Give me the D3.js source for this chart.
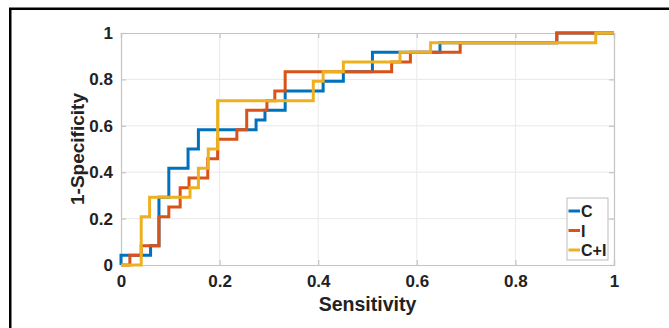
<!DOCTYPE html>
<html><head><meta charset="utf-8">
<script src="https://cdn.jsdelivr.net/npm/d3@7/dist/d3.min.js"></script>
<style>html,body{margin:0;padding:0;background:#fff;}svg{display:block;}</style>
</head><body>
<svg id="chart" width="669" height="328"></svg>
<script>
// ---- data ----
const seriesNames = ["C", "I", "C+I"];
const cX  = [0, 0, 0.06, 0.077, 0.097, 0.136, 0.157, 0.274, 0.292, 0.333, 0.41, 0.451, 0.51, 0.647, 0.884, 1];
const cY  = [0, 0.042, 0.083, 0.292, 0.417, 0.5, 0.583, 0.625, 0.667, 0.75, 0.792, 0.833, 0.917, 0.958, 1, 1];
const iX  = [0, 0.018, 0.041, 0.077, 0.097, 0.12, 0.138, 0.176, 0.196, 0.235, 0.255, 0.296, 0.312, 0.333, 0.549, 0.587, 0.688, 0.884, 1];
const iY  = [0, 0.042, 0.083, 0.208, 0.25, 0.333, 0.375, 0.458, 0.542, 0.583, 0.667, 0.708, 0.75, 0.833, 0.875, 0.917, 0.958, 1, 1];
const ciX = [0, 0.041, 0.058, 0.14, 0.157, 0.177, 0.196, 0.39, 0.41, 0.451, 0.566, 0.628, 0.963, 1];
const ciY = [0, 0.208, 0.292, 0.333, 0.417, 0.5, 0.708, 0.792, 0.833, 0.875, 0.917, 0.958, 1, 1];
const xTicks = [0, 0.2, 0.4, 0.6, 0.8, 1];
const yTicks = [0, 0.2, 0.4, 0.6, 0.8, 1];
const xTickLabels = ["0", "0.2", "0.4", "0.6", "0.8", "1"];
const yTickLabels = ["0", "0.2", "0.4", "0.6", "0.8", "1"];
const xLabel = "Sensitivity";
const yLabel = "1-Specificity";

const colors = ["#0072BD", "#D95319", "#EDB120"];
const series = [
  {name: seriesNames[0], pts: cX.map((v, i) => [v, cY[i]])},
  {name: seriesNames[1], pts: iX.map((v, i) => [v, iY[i]])},
  {name: seriesNames[2], pts: ciX.map((v, i) => [v, ciY[i]])}
];

const svg = d3.select("#chart");
const pL = 121, pR = 614, pT = 33, pB = 265;
const x = d3.scaleLinear().domain([0, 1]).range([pL, pR]);
const y = d3.scaleLinear().domain([0, 1]).range([pB, pT]);
const font = "'Liberation Sans', Arial, sans-serif";

// outer frame (cropped figure border)
svg.append("path").attr("d", "M10.25,328 V8.75 H669").attr("fill", "none")
  .attr("stroke", "#000").attr("stroke-width", 2.5);

// grid
const g = svg.append("g");
g.selectAll(".gx").data(xTicks.slice(1, -1)).join("line")
  .attr("x1", d => x(d)).attr("x2", d => x(d)).attr("y1", pT).attr("y2", pB)
  .attr("stroke", "#e8e8e8").attr("stroke-width", 1);
g.selectAll(".gy").data(yTicks.slice(1, -1)).join("line")
  .attr("y1", d => y(d)).attr("y2", d => y(d)).attr("x1", pL).attr("x2", pR)
  .attr("stroke", "#e8e8e8").attr("stroke-width", 1);

// axes (MATLAB style: box with inward ticks)
const axColor = "#c4c4c4";
const axB = d3.axisBottom(x).tickValues(xTicks).tickSize(-5).tickFormat((d, i) => xTickLabels[i]).tickPadding(10);
const axL = d3.axisLeft(y).tickValues(yTicks).tickSize(-5).tickFormat((d, i) => yTickLabels[i]).tickPadding(8);
const axT = d3.axisTop(x).tickValues(xTicks).tickSize(-5).tickFormat("");
const axR = d3.axisRight(y).tickValues(yTicks).tickSize(-5).tickFormat("");
function styleAxis(sel) {
  sel.selectAll("path").attr("stroke", axColor).attr("stroke-width", 1.2);
  sel.selectAll("line").attr("stroke", axColor).attr("stroke-width", 1.2);
  sel.selectAll("text").attr("fill", "#222").style("font-family", font)
    .style("font-size", "17px").style("font-weight", "bold");
}
svg.append("g").attr("transform", `translate(0,${pB})`).call(axB).call(styleAxis);
svg.append("g").attr("transform", `translate(${pL},0)`).call(axL).call(styleAxis);
svg.append("g").attr("transform", `translate(0,${pT})`).call(axT).call(styleAxis);
svg.append("g").attr("transform", `translate(${pR},0)`).call(axR).call(styleAxis);

// lines
const line = d3.line().x(d => x(d[0])).y(d => y(d[1])).curve(d3.curveStepAfter);
series.forEach((s, i) => {
  svg.append("path").datum(s.pts).attr("d", line).attr("fill", "none")
    .attr("stroke", colors[i]).attr("stroke-width", 3).attr("stroke-linejoin", "miter");
});

// axis labels
svg.append("text").attr("x", (pL + pR) / 2).attr("y", 311).attr("text-anchor", "middle")
  .style("font-family", font).style("font-size", "19.5px").style("font-weight", "bold")
  .attr("fill", "#222").text(xLabel);
svg.append("text").attr("transform", `translate(84,${(pT + pB) / 2}) rotate(-90)`)
  .attr("text-anchor", "middle")
  .style("font-family", font).style("font-size", "19px").style("font-weight", "bold")
  .attr("fill", "#222").text(yLabel);

// legend
const lg = svg.append("g").attr("transform", "translate(567,198)");
lg.append("rect").attr("x", 0).attr("y", 0).attr("width", 41).attr("height", 62)
  .attr("fill", "#fff").attr("stroke", "#bdbdbd").attr("stroke-width", 1);
seriesNames.forEach((n, i) => {
  const yy = 13 + i * 19.5;
  lg.append("line").attr("x1", 1.5).attr("x2", 13).attr("y1", yy).attr("y2", yy)
    .attr("stroke", colors[i]).attr("stroke-width", 3);
  lg.append("text").attr("x", 14).attr("y", yy + 6).text(n)
    .style("font-family", font).style("font-size", "16px").style("font-weight", "bold")
    .attr("fill", "#222");
});
</script>
</body></html>
